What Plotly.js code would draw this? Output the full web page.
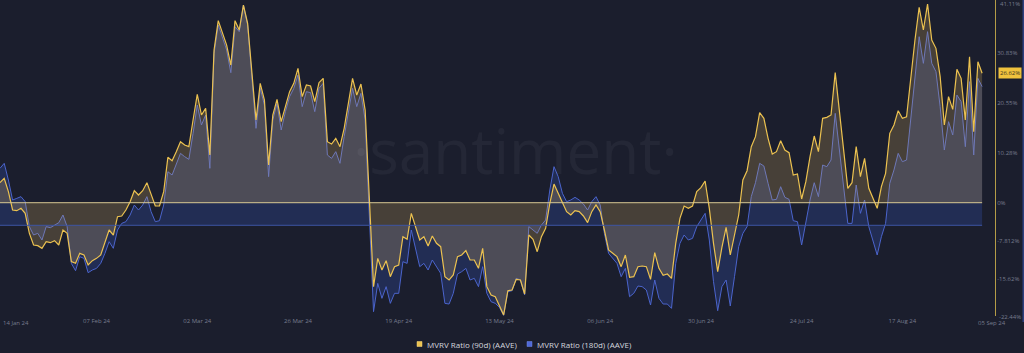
<!DOCTYPE html>
<html>
<head>
<meta charset="utf-8">
<script src="https://cdn.plot.ly/plotly-3.0.1.min.js"></script>
<style>
  html, body { margin: 0; padding: 0; background: #1b1e2d; }
  #chart { width: 1024px; height: 353px; }
</style>
</head>
<body>
<div id="chart"></div>
<script>
// Daily series starting 15 Jan 2024 and ending 05 Sep 2024
const startDate = '2024-01-15';

// MVRV Ratio (90d) (AAVE), percent
const mvrv90 = [
  4.12, 5.01, 2.27, -1.50, -1.64, -1.16, -2.19, -6.30, -8.69, -8.83,
  -9.38, -8.01, -8.22, -7.80, -8.69, -5.61, -6.30, -12.12, -12.46, -10.41,
  -10.75, -12.81, -11.92, -11.44, -10.75, -8.35, -5.61, -6.64, -2.87, -2.73,
  -1.50, 0.21, 2.47, 1.58, 2.47, 4.12, 1.58, -0.68, -0.68, 2.27,
  9.33, 8.64, 10.49, 12.55, 11.86, 11.52, 17.00, 22.27, 18.03, 19.40,
  9.80, 31.39, 37.42, 34.81, 32.41, 28.30, 37.42, 35.50, 40.64, 36.87,
  27.28, 17.00, 24.54, 21.11, 7.75, 18.03, 21.25, 16.66, 19.74, 22.82,
  24.54, 27.62, 21.80, 24.19, 23.99, 20.77, 24.67, 25.56, 12.55, 12.07,
  13.23, 11.52, 15.29, 20.08, 25.56, 22.14, 24.40, 19.05, -0.13, -17.26,
  -11.44, -13.83, -11.92, -15.20, -13.15, -12.81, -6.98, -7.53, -2.19, -4.93,
  -7.67, -6.98, -8.90, -6.84, -8.35, -9.04, -15.20, -15.89, -14.86, -11.09,
  -10.75, -9.86, -11.78, -11.78, -13.49, -9.38, -17.26, -18.97, -19.31, -21.16,
  -23.08, -18.08, -17.94, -15.75, -15.89, -18.77, -6.64, -7.53, -10.07, -6.98,
  -5.27, -0.13, 3.84, 1.93, 0.01, -1.84, -2.53, -1.64, -1.84, -2.73,
  -4.10, -1.84, -0.47, -1.84, -5.61, -9.72, -10.41, -11.09, -13.15, -10.75,
  -15.34, -15.20, -13.15, -13.01, -13.15, -15.75, -10.27, -13.49, -14.93, -14.66,
  -15.55, -8.35, -3.21, -0.68, -1.16, -0.68, 2.27, 3.09, 4.46, -1.16,
  -8.35, -14.18, -9.17, -5.06, -10.75, -6.84, -2.53, 4.67, 6.58, 11.52,
  13.57, 18.51, 17.34, 13.23, 10.01, 10.49, 12.75, 10.83, 10.28, 5.69,
  5.90, 0.76, 4.32, 9.46, 13.71, 10.49, 17.34, 17.55, 18.03, 26.73,
  18.71, 10.83, 2.95, 4.12, 11.52, 5.35, 9.12, 2.95, 0.69, -1.16,
  3.30, 6.04, 14.26, 15.97, 18.92, 17.34, 17.68, 25.91, 33.44, 40.16,
  35.50, 40.84, 33.44, 31.73, 25.91, 15.97, 21.80, 19.19, 27.41, 25.56,
  17.00, 30.02, 14.60, 28.99, 26.62
];

// MVRV Ratio (180d) (AAVE), percent (own hidden scale)
const mvrv180 = [
  11.71, 12.74, 9.31, 5.20, 5.54, 5.89, 4.86, -0.28, -1.99, -1.65,
  -3.02, -0.28, -0.49, 0.06, 0.54, 2.12, -0.28, -7.82, -9.33, -6.45,
  -6.79, -9.74, -9.19, -8.85, -7.82, -5.76, -3.36, -4.73, -0.97, 0.40,
  0.75, 2.12, 4.17, 3.14, 4.17, 5.89, 2.80, 0.75, 0.95, 4.17,
  11.02, 10.34, 12.39, 14.79, 14.11, 13.56, 18.90, 24.73, 20.62, 22.67,
  11.71, 35.35, 41.17, 38.77, 36.03, 31.37, 40.83, 39.80, 45.28, 41.17,
  30.89, 19.93, 28.15, 24.73, 10.00, 21.64, 25.07, 19.59, 23.36, 26.44,
  28.15, 30.89, 24.39, 27.47, 27.26, 23.36, 28.15, 29.18, 14.45, 13.76,
  15.14, 12.74, 18.22, 23.01, 28.15, 24.39, 27.13, 21.64, 2.46, -17.75,
  -11.93, -15.01, -12.61, -16.04, -13.98, -13.98, -7.48, -7.82, -0.97, -5.08,
  -8.50, -7.82, -9.19, -7.13, -8.50, -9.87, -16.04, -16.18, -13.98, -10.01,
  -9.53, -8.85, -11.24, -10.90, -12.61, -8.50, -13.98, -15.70, -16.04, -16.86,
  -18.50, -13.64, -13.44, -10.90, -11.24, -14.33, -0.28, -0.97, -1.65, 0.06,
  1.09, 7.26, 12.05, 10.00, 6.57, 4.86, 5.20, 5.75, 5.20, 4.38,
  3.14, 4.86, 5.89, 4.17, -1.65, -5.76, -6.79, -7.82, -10.56, -8.85,
  -14.67, -13.98, -12.48, -12.61, -13.30, -16.38, -11.24, -15.01, -16.18, -16.18,
  -17.07, -7.82, -3.71, -1.99, -3.02, -2.68, -0.28, 1.09, 2.46, -3.02,
  -11.59, -17.55, -12.61, -11.24, -16.59, -10.56, -4.39, -1.65, -0.28, 5.89,
  8.76, 12.74, 12.19, 8.63, 5.20, 5.34, 7.94, 5.75, 5.34, 0.95,
  0.75, -4.05, 0.40, 5.20, 8.76, 5.89, 12.39, 12.05, 13.42, 23.01,
  15.48, 7.94, 0.40, 0.40, 8.28, 2.46, 5.20, -0.28, -3.02, -6.10,
  -2.34, 0.40, 8.63, 11.37, 14.79, 13.08, 13.42, 21.64, 31.24, 38.77,
  33.29, 39.80, 33.29, 31.58, 24.39, 15.48, 21.30, 18.56, 26.78, 25.41,
  16.16, 29.52, 14.45, 30.21, 28.50
];

// Axis labels
const xTickDates = ['2024-02-07', '2024-03-02', '2024-03-26', '2024-04-19', '2024-05-13', '2024-06-06', '2024-06-30', '2024-07-24', '2024-08-17'];
const xTickLabels = ['07 Feb 24', '02 Mar 24', '26 Mar 24', '19 Apr 24', '13 May 24', '06 Jun 24', '30 Jun 24', '24 Jul 24', '17 Aug 24'];
const xEdgeLabels = ['14 Jan 24', '05 Sep 24'];
const yTickValues = [30.83, 20.55, 10.28, 0, -7.812, -15.62];
const yTickLabels = ['30.83%', '20.55%', '10.28%', '0%', '-7.812%', '-15.62%'];
const yEdgeLabels = ['41.11%', '-22.44%'];
const seriesNames = ['MVRV Ratio (90d) (AAVE)', 'MVRV Ratio (180d) (AAVE)'];

const dates = mvrv90.map((_, i) => {
  const d = new Date(startDate + 'T00:00:00Z');
  d.setUTCDate(d.getUTCDate() + i);
  return d.toISOString().slice(0, 10);
});
const lastDate = dates[dates.length - 1];
const lastValue = mvrv90[mvrv90.length - 1];

const BG = '#1b1e2d';
const YEL = '#ecc250';
const BLU = '#4b64cc';
const TICK = '#777c8e';

const traces = [
  {
    x: dates, y: mvrv180, yaxis: 'y', type: 'scatter', mode: 'lines',
    name: seriesNames[1],
    line: { color: BLU, width: 1 },
    fill: 'tozeroy', fillcolor: 'rgba(67,105,241,0.2)',
    hoverinfo: 'skip'
  },
  {
    x: dates, y: mvrv90, yaxis: 'y2', type: 'scatter', mode: 'lines',
    name: seriesNames[0],
    line: { color: YEL, width: 1.2 },
    fill: 'tozeroy', fillcolor: 'rgba(250,200,100,0.2)',
    hoverinfo: 'skip'
  }
];

const pxX = p => p / 995;          // plot area: 0..995 px wide
const pxY = p => (316 - p) / 316;  // plot area: 0..316 px tall

const layout = {
  width: 1024, height: 353,
  paper_bgcolor: BG, plot_bgcolor: BG,
  margin: { l: 0, r: 29, t: 0, b: 37, pad: 0 },
  showlegend: false,
  font: { family: 'Open Sans, sans-serif' },
  xaxis: {
    type: 'date',
    range: ['2024-01-15', '2024-09-08 01:40'],
    tickmode: 'array', tickvals: xTickDates, ticktext: xTickLabels,
    showgrid: false, zeroline: false, showline: false, ticks: '',
    tickfont: { size: 6, color: TICK }, fixedrange: true
  },
  yaxis: {
    range: [-18.64, 46.31], visible: false, fixedrange: true
  },
  yaxis2: {
    overlaying: 'y', side: 'right',
    range: [-23.29, 41.67],
    tickmode: 'array', tickvals: yTickValues, ticktext: yTickLabels,
    showgrid: false, zeroline: false, showline: true,
    linecolor: '#b49c47', linewidth: 1, ticks: '',
    tickfont: { size: 6, color: TICK }, fixedrange: true
  },
  shapes: [
    { type: 'line', xref: 'x', yref: 'y2', x0: dates[0], x1: lastDate, y0: 0, y1: 0,
      line: { color: '#d8c894', width: 1 } },
    { type: 'line', xref: 'x', yref: 'y', x0: dates[0], x1: lastDate, y0: 0, y1: 0,
      line: { color: '#3d54a3', width: 1 } },
    { type: 'rect', xref: 'paper', yref: 'paper',
      x0: pxX(1022.5), x1: pxX(1024.5), y0: pxY(322), y1: pxY(0),
      fillcolor: '#2e3f7e', line: { width: 0 } },
    { type: 'rect', xref: 'paper', yref: 'paper',
      x0: pxX(417), x1: pxX(422), y0: pxY(346.5), y1: pxY(341.5),
      fillcolor: YEL, line: { color: '#f7d77a', width: 0.5 } },
    { type: 'rect', xref: 'paper', yref: 'paper',
      x0: pxX(527), x1: pxX(532), y0: pxY(346.5), y1: pxY(341.5),
      fillcolor: '#4f68d8', line: { color: '#6f86e6', width: 0.5 } }
  ],
  annotations: [
    { text: '·santiment·', xref: 'paper', yref: 'paper', x: pxX(515), y: pxY(150),
      xanchor: 'center', yanchor: 'middle', showarrow: false,
      font: { family: 'Open Sans', size: 62, color: 'rgba(255,255,255,0.045)' } },
    { text: xEdgeLabels[0], xref: 'paper', yref: 'paper', x: pxX(1), y: pxY(323),
      xanchor: 'left', yanchor: 'middle', showarrow: false,
      font: { size: 6, color: TICK } },
    { text: xEdgeLabels[1], xref: 'paper', yref: 'paper', x: pxX(992), y: pxY(323),
      xanchor: 'center', yanchor: 'middle', showarrow: false,
      font: { size: 6, color: TICK } },
    { text: yEdgeLabels[0], xref: 'paper', yref: 'paper', x: pxX(998), y: pxY(4),
      xanchor: 'left', yanchor: 'middle', showarrow: false,
      font: { size: 6, color: TICK } },
    { text: yEdgeLabels[1], xref: 'paper', yref: 'paper', x: pxX(997), y: pxY(316.5),
      xanchor: 'left', yanchor: 'middle', showarrow: false,
      font: { size: 6, color: TICK } },
    { text: lastValue.toFixed(2) + '%', xref: 'paper', yref: 'y2', x: pxX(998), y: lastValue,
      xanchor: 'left', yanchor: 'middle', showarrow: false,
      bgcolor: '#f0c23d', borderpad: 1,
      font: { size: 6, color: '#3a3320' } },
    { text: seriesNames[0], xref: 'paper', yref: 'paper', x: pxX(425), y: pxY(344),
      xanchor: 'left', yanchor: 'middle', showarrow: false,
      font: { size: 8, color: '#d4d6de' } },
    { text: seriesNames[1], xref: 'paper', yref: 'paper', x: pxX(535), y: pxY(344),
      xanchor: 'left', yanchor: 'middle', showarrow: false,
      font: { size: 8, color: '#d4d6de' } }
  ]
};

Plotly.newPlot('chart', traces, layout, { displayModeBar: false, staticPlot: true });
</script>
</body>
</html>
